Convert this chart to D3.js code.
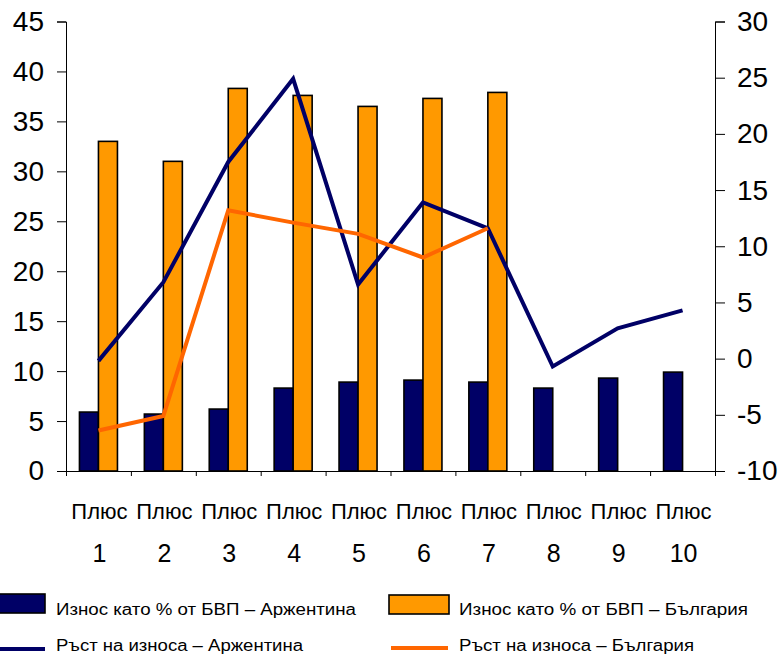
<!DOCTYPE html>
<html>
<head>
<meta charset="utf-8">
<script src="https://cdn.jsdelivr.net/npm/d3@7"></script>
<style>
  html, body { margin: 0; padding: 0; background: #fff; }
  svg { display: block; font-family: "Liberation Sans", Arial, sans-serif; }
</style>
</head>
<body>
<svg id="chart" width="780" height="654"></svg>
<script>
// Categories
const categories = ["1", "2", "3", "4", "5", "6", "7", "8", "9", "10"];
const categoryPrefix = "Плюс";

// Exports as % of GDP (left axis)
const exportsArgentina = [5.9, 5.7, 6.2, 8.3, 8.9, 9.1, 8.9, 8.3, 9.3, 9.9];
const exportsBulgaria  = [33.0, 31.0, 38.3, 37.6, 36.5, 37.3, 37.9, null, null, null];

// Export growth (right axis)
const growthArgentina = [-0.2, 6.8, 17.5, 24.9, 6.6, 13.9, 11.6, -0.7, 2.7, 4.3];
const growthBulgaria  = [-6.4, -5.1, 13.2, 12.1, 11.1, 9.0, 11.6, null, null, null];

// Axis ticks
const leftTicks  = [0, 5, 10, 15, 20, 25, 30, 35, 40, 45];
const rightTicks = [-10, -5, 0, 5, 10, 15, 20, 25, 30];

// Legend labels
const labelExpArg = "Износ като % от БВП – Аржентина";
const labelExpBul = "Износ като % от БВП – България";
const labelGrArg  = "Ръст на износа – Аржентина";
const labelGrBul  = "Ръст на износа – България";

const NAVY_FILL = "#000066";
const NAVY_LINE = "#000066";
const ORANGE_FILL = "#FF9900";
const ORANGE_LINE = "#FF6600";

const svg = d3.select("#chart");
const plot = { left: 66, right: 715, top: 21.5, bottom: 471 };

const x = d3.scaleBand().domain(categories).range([plot.left, plot.right]).padding(0);
const xEdge = d3.scaleLinear().domain([0, categories.length]).range([plot.left, plot.right]);
const yL = d3.scaleLinear().domain([0, 45]).range([plot.bottom, plot.top]);
const yR = d3.scaleLinear().domain([-10, 30]).range([plot.bottom, plot.top]);
const sub = d3.scaleBand().domain(["arg", "bul"]).range([-19, 19]).padding(0);

// Bars
const barData = [];
categories.forEach((c, i) => {
  barData.push({ c, key: "arg", v: exportsArgentina[i], fill: NAVY_FILL });
  if (exportsBulgaria[i] != null) barData.push({ c, key: "bul", v: exportsBulgaria[i], fill: ORANGE_FILL });
});

svg.append("g").selectAll("rect").data(barData).join("rect")
  .attr("x", d => x(d.c) + x.bandwidth() / 2 + sub(d.key))
  .attr("y", d => yL(d.v))
  .attr("width", sub.bandwidth())
  .attr("height", d => yL(0) - yL(d.v))
  .attr("fill", d => d.fill)
  .attr("stroke", "#000")
  .attr("stroke-width", 1.6);

// Axes
const axisStyle = g => {
  g.selectAll(".domain").attr("stroke", "#000").attr("stroke-width", 1);
  g.selectAll(".tick line").attr("stroke", "#000").attr("stroke-width", 1);
  g.selectAll("text").attr("fill", "#000");
};
const plainNumber = d => String(d);

svg.append("g")
  .attr("transform", `translate(${plot.left},0)`)
  .call(d3.axisLeft(yL).tickValues(leftTicks).tickFormat(plainNumber).tickSize(9).tickPadding(13).tickSizeOuter(9))
  .call(g => g.selectAll("text").attr("font-size", 28).attr("font-family", "Liberation Sans, Arial, sans-serif"))
  .call(axisStyle);

svg.append("g")
  .attr("transform", `translate(${plot.right},0)`)
  .call(d3.axisRight(yR).tickValues(rightTicks).tickFormat(plainNumber).tickSize(10).tickPadding(12).tickSizeOuter(10))
  .call(g => g.selectAll("text").attr("font-size", 28).attr("font-family", "Liberation Sans, Arial, sans-serif"))
  .call(axisStyle);

svg.append("g")
  .attr("transform", `translate(0,${plot.bottom})`)
  .call(d3.axisBottom(xEdge).ticks(categories.length).tickSize(5).tickSizeOuter(5).tickFormat(""))
  .call(axisStyle);

// Category labels
const catLabels = svg.append("g").selectAll("g").data(categories).join("g")
  .attr("transform", d => `translate(${x(d) + x.bandwidth() / 2 + 1},0)`);
catLabels.append("text")
  .attr("y", 519).attr("text-anchor", "middle").attr("font-size", 22)
  .text(categoryPrefix);
catLabels.append("text")
  .attr("y", 562).attr("text-anchor", "middle").attr("font-size", 25)
  .text(d => d);

// Lines
const line = (yScale) => d3.line()
  .defined(d => d.v != null)
  .x(d => x(d.c) + x.bandwidth() / 2)
  .y(d => yScale(d.v));

const argPts = categories.map((c, i) => ({ c, v: growthArgentina[i] }));
const bulPts = categories.map((c, i) => ({ c, v: growthBulgaria[i] }));

svg.append("path").datum(argPts)
  .attr("d", line(yR)).attr("fill", "none")
  .attr("stroke", NAVY_LINE).attr("stroke-width", 4).attr("stroke-linejoin", "miter");
svg.append("path").datum(bulPts)
  .attr("d", line(yR)).attr("fill", "none")
  .attr("stroke", ORANGE_LINE).attr("stroke-width", 4).attr("stroke-linejoin", "miter");

// Legend
const legend = svg.append("g").attr("font-size", 16);
const legendItems = [
  { type: "rect", fill: NAVY_FILL, x: -2, y: 594, tx: 56, ty: 615, w: 47, label: labelExpArg, len: 300 },
  { type: "rect", fill: ORANGE_FILL, x: 389, y: 595, tx: 459, ty: 615, w: 60, label: labelExpBul, len: 289 },
  { type: "line", stroke: NAVY_LINE, x: 0, y: 649, tx: 56, ty: 651, w: 45, label: labelGrArg, len: 247 },
  { type: "line", stroke: ORANGE_LINE, x: 391, y: 648, tx: 459, ty: 651, w: 57, label: labelGrBul, len: 235 }
];
legendItems.forEach(it => {
  if (it.type === "rect") {
    legend.append("rect")
      .attr("x", it.x).attr("y", it.y).attr("width", it.w).attr("height", 19)
      .attr("fill", it.fill).attr("stroke", "#000").attr("stroke-width", 1.6);
  } else {
    legend.append("line")
      .attr("x1", it.x).attr("x2", it.x + it.w).attr("y1", it.y).attr("y2", it.y)
      .attr("stroke", it.stroke).attr("stroke-width", 4);
  }
  legend.append("text")
    .attr("x", it.tx).attr("y", it.ty)
    .attr("textLength", it.len).attr("lengthAdjust", "spacingAndGlyphs")
    .text(it.label);
});
</script>
</body>
</html>
